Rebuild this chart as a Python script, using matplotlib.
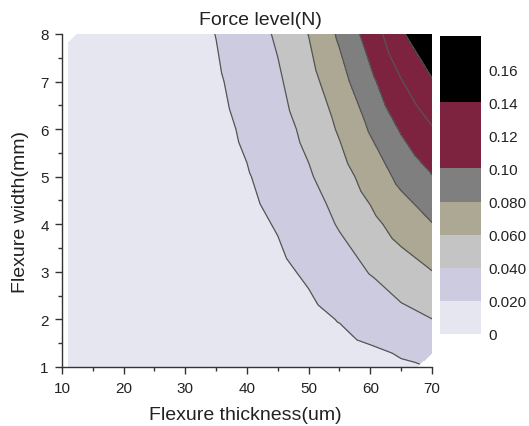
import matplotlib
matplotlib.use("Agg")
import matplotlib.pyplot as plt
import matplotlib.tri as mtri
from matplotlib.ticker import MultipleLocator
import numpy as np

plt.rcParams['font.family'] = ['Liberation Sans', 'DejaVu Sans']

# grid: thickness (um) x width (mm) -> force (N)
thickness = [11, 15, 20, 25, 30, 35, 40, 45, 50, 55, 60, 65, 70]
width = [1, 2, 3, 4, 5, 6, 7, 8]
force = [
    [0.0001, 0.0002, 0.0005, 0.0009, 0.0016, 0.0025, 0.0038, 0.0053, 0.0076, 0.0104, 0.0136, 0.0170, 0.0199],
    [0.0002, 0.0004, 0.0010, 0.0019, 0.0032, 0.0051, 0.0076, 0.0107, 0.0151, 0.0208, 0.0273, 0.0340, 0.0398],
    [0.0002, 0.0006, 0.0014, 0.0028, 0.0048, 0.0076, 0.0113, 0.0160, 0.0227, 0.0312, 0.0409, 0.0510, 0.0596],
    [0.0003, 0.0008, 0.0019, 0.0037, 0.0064, 0.0102, 0.0151, 0.0213, 0.0302, 0.0416, 0.0545, 0.0680, 0.0793],
    [0.0004, 0.0010, 0.0024, 0.0046, 0.0080, 0.0127, 0.0189, 0.0266, 0.0378, 0.0519, 0.0681, 0.0850, 0.0990],
    [0.0005, 0.0012, 0.0029, 0.0056, 0.0096, 0.0152, 0.0227, 0.0320, 0.0453, 0.0623, 0.0818, 0.1020, 0.1186],
    [0.0006, 0.0014, 0.0033, 0.0065, 0.0112, 0.0178, 0.0264, 0.0373, 0.0529, 0.0727, 0.0954, 0.1190, 0.1380],
    [0.0006, 0.0016, 0.0038, 0.0074, 0.0128, 0.0203, 0.0302, 0.0426, 0.0604, 0.0831, 0.1090, 0.1365, 0.1640],
]
# corner samples that are missing in the data, and the points next to them
missing = [(11, 8), (70, 1)]
extra_t = [12.5, 11, 67.5, 70]
extra_w = [8, 7.8, 1, 1.3]
extra_f = [0.0010, 0.0006, 0.0185, 0.0259]

levels = [0, 0.02, 0.04, 0.06, 0.08, 0.10, 0.12, 0.14, 0.16, 0.18]
colors = ['#e6e6f0', '#cdcbdf', '#c4c4c4', '#aca894', '#7f7f7f',
          '#7d2340', '#7d2340', '#000000', '#000000']
cbar_labels = ['0', '0.020', '0.040', '0.060', '0.080', '0.10', '0.12', '0.14', '0.16']

pt, pw, pf = [], [], []
for i, w in enumerate(width):
    for j, t in enumerate(thickness):
        if (t, w) in missing:
            continue
        pt.append(t)
        pw.append(w)
        pf.append(force[i][j])
pt = np.array(pt + extra_t, dtype=float)
pw = np.array(pw + extra_w, dtype=float)
pf = np.array(pf + extra_f, dtype=float)

# triangulate on roughly square cells, then use the real coordinates
tri_s = mtri.Triangulation(pt / 5.0, pw)
tri = mtri.Triangulation(pt, pw, tri_s.triangles)

fig = plt.figure(figsize=(5.29, 4.27), dpi=100)
ax = fig.add_axes([0.1172, 0.1382, 0.6994, 0.7799])
cf = ax.tricontourf(tri, pf, levels=levels, colors=colors)
ax.tricontour(tri, pf, levels=levels[1:8], colors='#555555', linewidths=0.9)

ax.set_xlim(10, 70)
ax.set_ylim(1, 8)
ax.xaxis.set_major_locator(MultipleLocator(10))
ax.xaxis.set_minor_locator(MultipleLocator(5))
ax.yaxis.set_major_locator(MultipleLocator(1))
ax.yaxis.set_minor_locator(MultipleLocator(0.5))
for s in ['top', 'right']:
    ax.spines[s].set_visible(False)
for s in ['left', 'bottom']:
    ax.spines[s].set_color('#333333')
    ax.spines[s].set_linewidth(1.0)
ax.tick_params(which='major', direction='out', length=5, width=1, color='#333333',
               labelsize=11, labelcolor='#222222')
ax.tick_params(axis='x', which='major', pad=5)
ax.tick_params(axis='y', which='major', pad=4.5)
ax.tick_params(which='minor', direction='out', length=3, width=1, color='#333333')

fig.text(0.463, 0.026, 'Flexure thickness(um)', ha='center', va='center',
         fontsize=14, color='#222222')
fig.text(0.038, 0.5035, 'Flexure width(mm)', ha='center', va='center',
         rotation=90, fontsize=14, color='#222222')
fig.text(0.4915, 0.953, 'Force level(N)', ha='center', va='center', fontsize=14, color='#222222')

cax = fig.add_axes([0.8318, 0.2155, 0.0775, 0.6979])
cb = fig.colorbar(cf, cax=cax)
cb.outline.set_visible(False)
cb.set_ticks(levels[:-1])
cb.set_ticklabels(cbar_labels)
cax.tick_params(length=0, pad=5, labelsize=11, labelcolor='#222222')

fig.savefig('out.png', dpi=100)
